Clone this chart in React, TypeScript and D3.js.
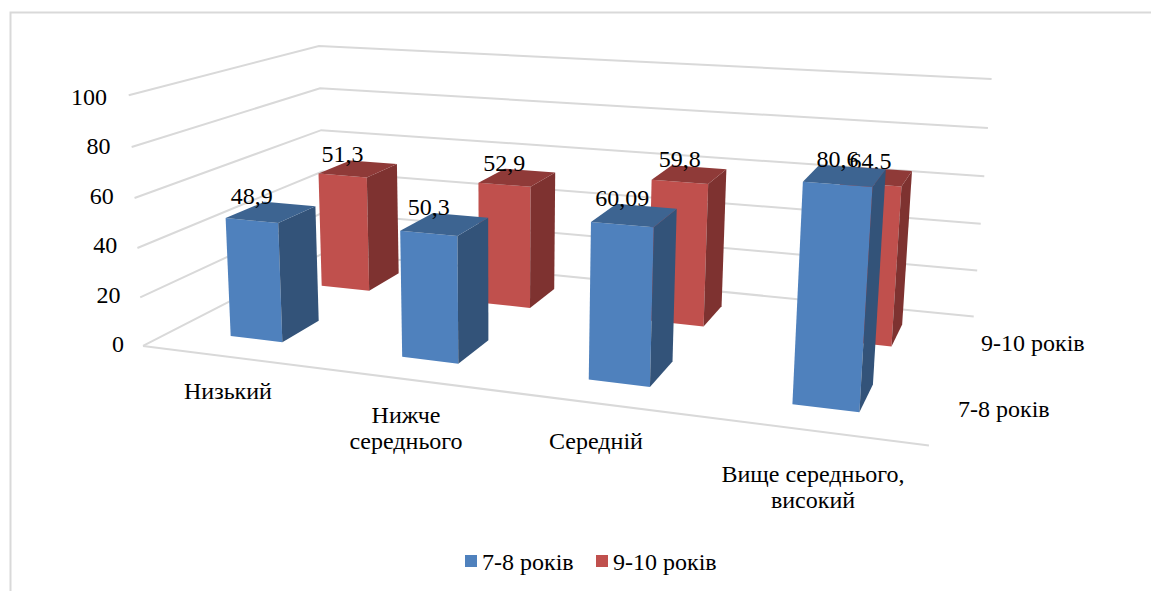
import React from "react";
import * as d3 from "d3";

const WIDTH = 1151;
const HEIGHT = 591;

const categories = ["Низький", "Нижче середнього", "Середній", "Вище середнього, високий"];
const seriesNames = ["7-8 років", "9-10 років"];
const youngerValues = [48.9, 50.3, 60.09, 80.6];
const olderValues = [51.3, 52.9, 59.8, 64.5];
const youngerLabels = ["48,9", "50,3", "60,09", "80,6"];
const olderLabels = ["51,3", "52,9", "59,8", "64,5"];
const valueTicks = [0, 20, 40, 60, 80, 100];

const FONT = "'Liberation Serif', 'Times New Roman', serif";
const GRID = "#d9d9d9";

const palette = [
  { front: "#4f81bd", side: "#335379", top: "#3d6491" },
  { front: "#c0504d", side: "#7e3230", top: "#8f3a38" },
];

type Vec3 = [number, number, number];

// Reference points of the plot box: (category axis, depth axis, value axis) -> screen.
const boxCalibration: [Vec3, [number, number]][] = [
  [[0, 0, 0], [145, 344]],
  [[0, 0, 0.4], [137, 248]],
  [[0, 0, 1], [127, 96]],
  [[0, 1, 0], [323, 255]],
  [[0, 1, 0.4], [322, 171]],
  [[0, 1, 1], [321, 45]],
  [[1, 1, 0], [974, 315]],
  [[1, 1, 0.4], [981, 223]],
  [[1, 1, 1], [991, 80]],
  [[1, 0, 0], [929, 447]],
];

// Least-squares fit of a 3x4 projection matrix with its last entry fixed to 1.
function fitProjection(points: [Vec3, [number, number]][]) {
  const rows: number[][] = [];
  const rhs: number[] = [];
  points.forEach(([[x, y, z], [sx, sy]]) => {
    rows.push([x, y, z, 1, 0, 0, 0, 0, -sx * x, -sx * y, -sx * z]);
    rhs.push(sx);
    rows.push([0, 0, 0, 0, x, y, z, 1, -sy * x, -sy * y, -sy * z]);
    rhs.push(sy);
  });
  const n = 11;
  const m = d3.range(n).map((i) =>
    d3.range(n + 1).map((j) =>
      j < n ? d3.sum(rows, (r) => r[i] * r[j]) : d3.sum(rows, (r, k) => r[i] * rhs[k])
    )
  );
  for (let c = 0; c < n; c++) {
    let pivot = c;
    for (let r = c + 1; r < n; r++) if (Math.abs(m[r][c]) > Math.abs(m[pivot][c])) pivot = r;
    [m[c], m[pivot]] = [m[pivot], m[c]];
    for (let r = 0; r < n; r++) {
      if (r === c) continue;
      const f = m[r][c] / m[c][c];
      for (let k = c; k <= n; k++) m[r][k] -= f * m[c][k];
    }
  }
  return d3.range(n).map((i) => m[i][n] / m[i][i]);
}

const P = fitProjection(boxCalibration);

function project(x: number, y: number, z: number): [number, number] {
  const w = P[8] * x + P[9] * y + P[10] * z + 1;
  return [
    (P[0] * x + P[1] * y + P[2] * z + P[3]) / w,
    (P[4] * x + P[5] * y + P[6] * z + P[7]) / w,
  ];
}

const xBand = d3.scaleBand<string>().domain(categories).range([-0.001, 0.999]).paddingInner(0.69).paddingOuter(0.345);
const depthBand = d3.scaleBand<string>().domain(seriesNames).range([0.005, 1.005]).paddingInner(0.607).paddingOuter(0.286);
const valueScale = d3.scaleLinear().domain([0, 100]).range([0, 1]);
const tickLabelX = d3.scaleLinear().domain([0, 100]).range([124, 107]);
const tickLabelY = d3.scaleLinear().domain([0, 100]).range([352, 105]);

const poly = (pts: [number, number][]) => d3.line()(pts) + "Z";

function Bar({ cat, series, value, colors }: { cat: string; series: string; value: number; colors: typeof palette[0] }) {
  const x0 = xBand(cat)!;
  const x1 = x0 + xBand.bandwidth();
  const y0 = depthBand(series)!;
  const y1 = y0 + depthBand.bandwidth();
  const h = valueScale(value);
  return (
    <g>
      <path d={poly([project(x0, y0, 0), project(x1, y0, 0), project(x1, y0, h), project(x0, y0, h)])} fill={colors.front} />
      <path d={poly([project(x1, y0, 0), project(x1, y1, 0), project(x1, y1, h), project(x1, y0, h)])} fill={colors.side} />
      <path d={poly([project(x0, y0, h), project(x1, y0, h), project(x1, y1, h), project(x0, y1, h)])} fill={colors.top} />
    </g>
  );
}

// Value labels sit centred on the front face, with the baseline on the back edge of the bar top.
function BarLabel({ cat, series, value, text }: { cat: string; series: string; value: number; text: string }) {
  const xc = xBand(cat)! + xBand.bandwidth() / 2;
  const y0 = depthBand(series)!;
  const y1 = y0 + depthBand.bandwidth();
  const h = valueScale(value);
  return (
    <text x={project(xc, y0, h)[0]} y={project(xc, y1, h)[1]} textAnchor="middle" fontSize={24} fontFamily={FONT} fill="#000">
      {text}
    </text>
  );
}

const categoryLabelLines = [
  { lines: ["Низький"], x: 228, y: 399 },
  { lines: ["Нижче", "середнього"], x: 406, y: 423 },
  { lines: ["Середній"], x: 596, y: 449 },
  { lines: ["Вище середнього,", "високий"], x: 813, y: 482 },
];

export default function App() {
  return (
    <svg width={WIDTH} height={HEIGHT} style={{ position: "absolute", left: 0, top: 0, background: "#fff" }}>
      <path d="M10.5,591V12.5H1151" fill="none" stroke={GRID} strokeWidth={2} />

      {valueTicks.map((t) => {
        const w = valueScale(t);
        return (
          <g key={t}>
            <path
              d={d3.line()([project(0, 0, w), project(0, 1, w), project(1, 1, w)])!}
              fill="none"
              stroke={GRID}
              strokeWidth={2}
            />
            <text x={tickLabelX(t)} y={tickLabelY(t)} textAnchor="end" fontSize={24} fontFamily={FONT}>
              {t}
            </text>
          </g>
        );
      })}
      <path d={d3.line()([project(0, 0, 0), project(1, 0, 0)])!} fill="none" stroke={GRID} strokeWidth={2} />

      {categories.map((c, i) => (
        <Bar key={c} cat={c} series={seriesNames[1]} value={olderValues[i]} colors={palette[1]} />
      ))}
      {categories.map((c, i) => (
        <BarLabel key={c} cat={c} series={seriesNames[1]} value={olderValues[i]} text={olderLabels[i]} />
      ))}
      {categories.map((c, i) => (
        <Bar key={c} cat={c} series={seriesNames[0]} value={youngerValues[i]} colors={palette[0]} />
      ))}
      {categories.map((c, i) => (
        <BarLabel key={c} cat={c} series={seriesNames[0]} value={youngerValues[i]} text={youngerLabels[i]} />
      ))}

      <g fontSize={24} fontFamily={FONT} textAnchor="middle">
        {categoryLabelLines.map((l) =>
          l.lines.map((line, k) => (
            <text key={line} x={l.x} y={l.y + k * 26}>
              {line}
            </text>
          ))
        )}
      </g>

      <text x={981} y={351} fontSize={24} fontFamily={FONT}>{seriesNames[1]}</text>
      <text x={958} y={417} fontSize={24} fontFamily={FONT}>{seriesNames[0]}</text>

      <rect x={465} y={555} width={12} height={12} fill={palette[0].front} />
      <text x={482} y={570} fontSize={24} fontFamily={FONT}>{seriesNames[0]}</text>
      <rect x={596} y={555} width={12} height={12} fill={palette[1].front} />
      <text x={613} y={570} fontSize={24} fontFamily={FONT}>{seriesNames[1]}</text>
    </svg>
  );
}
